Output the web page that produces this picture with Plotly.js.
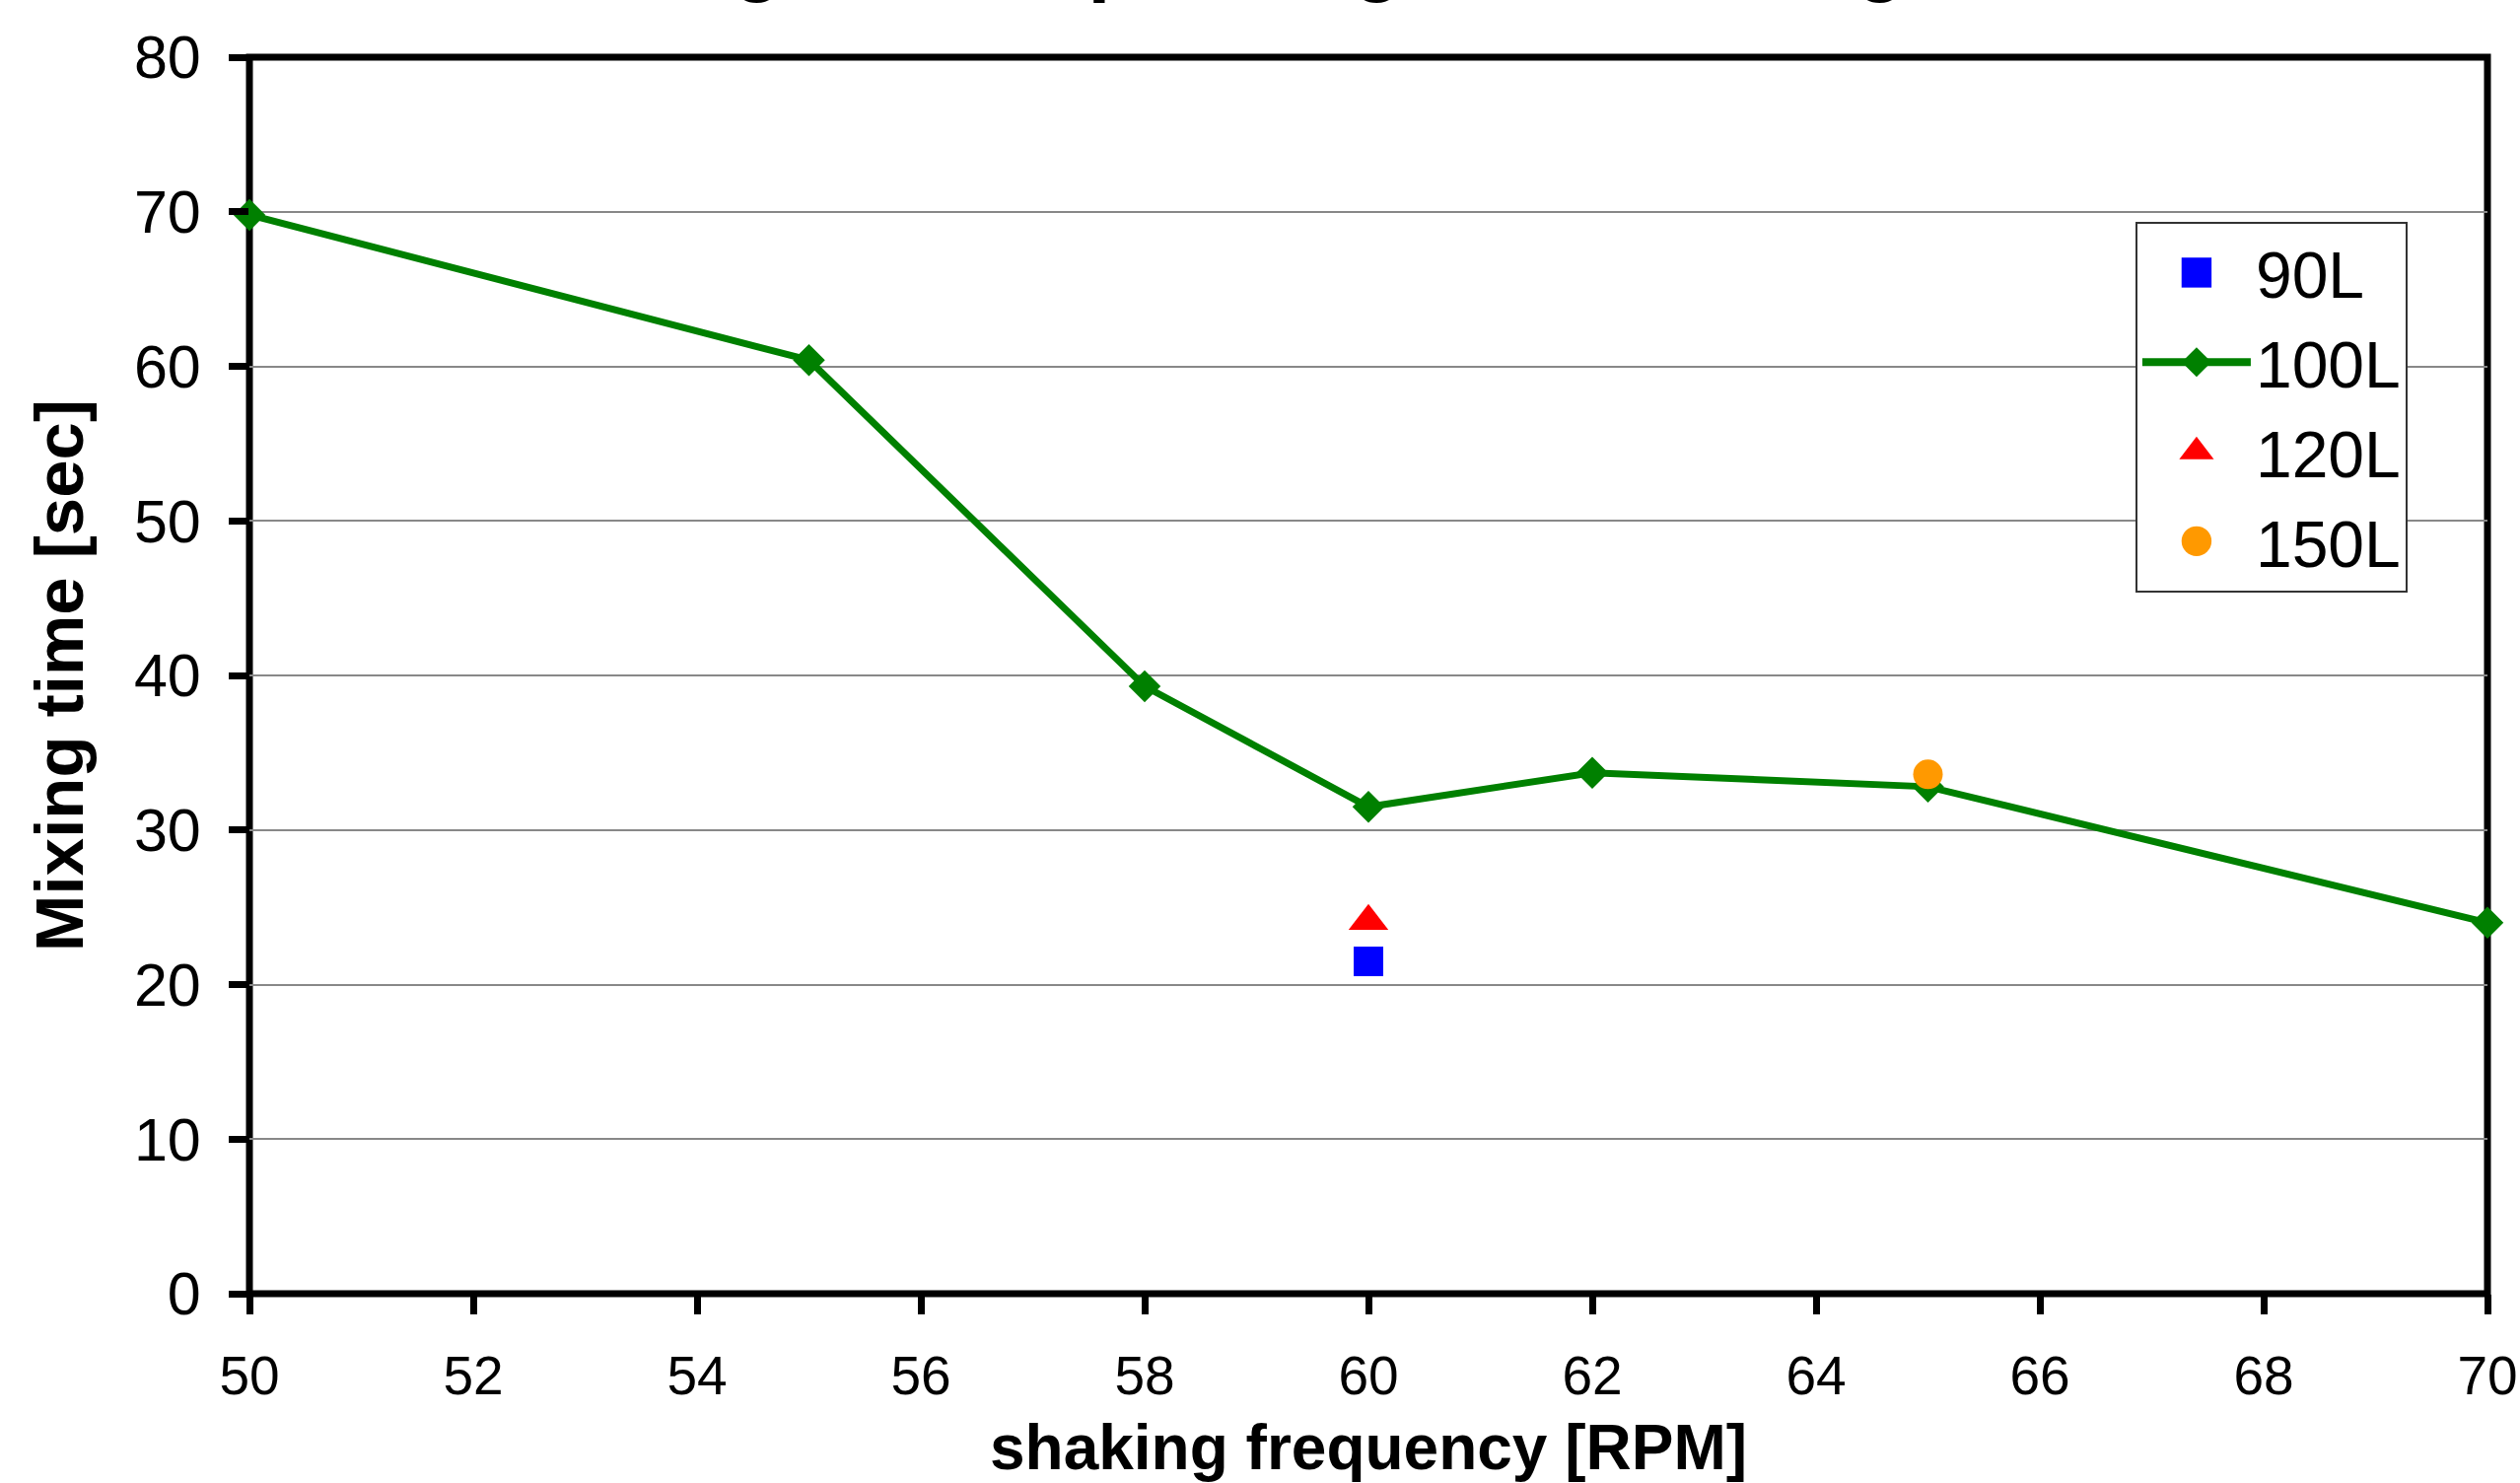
<!DOCTYPE html>
<html>
<head>
<meta charset="utf-8">
<script src="https://cdn.plot.ly/plotly-3.0.1.min.js"></script>
<style>
  html, body { margin: 0; padding: 0; background: #ffffff; }
  #chart { width: 2556px; height: 1504px; }
</style>
</head>
<body>
<div id="chart"></div>
<script>
// ---- data ----
const freq100 = [50, 55, 58, 60, 62, 65, 70];
const time100 = [69.8, 60.4, 39.3, 31.5, 33.7, 32.8, 24.0];
const freq90 = [60];
const time90 = [21.5];
const freq120 = [60];
const time120 = [24.1];
const freq150 = [65];
const time150 = [33.6];
const xTickVals = [50, 52, 54, 56, 58, 60, 62, 64, 66, 68, 70];
const yTickVals = [0, 10, 20, 30, 40, 50, 60, 70, 80];
const titleText = 'Mixing time depending on the filling volume';
const xTitle = 'shaking frequency [RPM]';
const yTitle = 'Mixing time [sec]';

const FONT = 'Liberation Sans, Arial, Helvetica, sans-serif';

const traces = [
  {
    name: '90L', legendgroup: 'g90', x: freq90, y: time90, type: 'scatter', mode: 'markers',
    marker: { symbol: 'square', size: 30, color: '#0000FF' },
    cliponaxis: false
  },
  {
    name: '100L', legendgroup: 'g100', x: freq100, y: time100, type: 'scatter', mode: 'lines+markers',
    line: { color: '#008000', width: 7 },
    marker: { symbol: 'diamond', size: 25, color: '#008000' },
    cliponaxis: false
  },
  {
    name: '120L', legendgroup: 'g120', x: freq120, y: time120, type: 'scatter', mode: 'markers',
    marker: { symbol: 'triangle-up', size: 35, color: '#FF0000' },
    cliponaxis: false
  },
  {
    name: '150L', legendgroup: 'g150', x: freq150, y: time150, type: 'scatter', mode: 'markers',
    marker: { symbol: 'circle', size: 30, color: '#FF9900' },
    cliponaxis: false
  }
];

// legend symbol enlargement (Plotly caps legend symbol size)
const legendScale = { '90L': 1.9, '100L': 1.45, '120L': 1.9, '150L': 1.9 };

const layout = {
  width: 2556, height: 1504,
  margin: { l: 253, r: 33, t: 58, b: 192, pad: 0 },
  paper_bgcolor: '#ffffff', plot_bgcolor: '#ffffff',
  font: { family: FONT, color: '#000000' },
  showlegend: true,
  legend: {
    x: 0.8427, y: 0.8668, xanchor: 'left', yanchor: 'top',
    bgcolor: '#ffffff', bordercolor: '#333333', borderwidth: 2,
    font: { family: FONT, size: 66, color: '#000000' },
    itemwidth: 110, traceorder: 'grouped', tracegroupgap: 2
  },
  xaxis: {
    range: [50, 70], tickmode: 'array', tickvals: xTickVals,
    showgrid: false, zeroline: false, showline: false,
    ticks: 'outside', ticklen: 20, tickwidth: 7, tickcolor: '#000000',
    tickfont: { family: FONT, size: 55, color: '#000000' },
    ticklabelstandoff: 15,
    title: { text: '<b>' + xTitle + '</b>', font: { family: FONT, size: 64, color: '#000000' }, standoff: 20 }
  },
  yaxis: {
    range: [0, 80], tickmode: 'array', tickvals: yTickVals,
    showgrid: true, gridcolor: '#888888', gridwidth: 2,
    zeroline: false, showline: false,
    ticks: 'outside', ticklen: 20, tickwidth: 7, tickcolor: '#000000',
    tickfont: { family: FONT, size: 61, color: '#000000' },
    ticklabelstandoff: 16,
    title: { text: '<b>' + yTitle + '</b>', font: { family: FONT, size: 69, color: '#000000' }, standoff: 28 }
  },
  shapes: [
    {
      type: 'rect', xref: 'paper', yref: 'paper', x0: 0, x1: 1, y0: 0, y1: 1,
      line: { color: '#000000', width: 7 }, fillcolor: 'rgba(0,0,0,0)', layer: 'below'
    }
  ],
  annotations: [
    {
      text: '<b>' + titleText + '</b>', xref: 'paper', yref: 'paper',
      x: 0.5, y: 1, xanchor: 'center', yanchor: 'bottom', yshift: 53,
      showarrow: false, font: { family: FONT, size: 82, color: '#000000' }
    }
  ]
};

Plotly.newPlot('chart', traces, layout, { displayModeBar: false, staticPlot: true }).then(function (gd) {
  const items = gd.querySelectorAll('.legend .traces');
  items.forEach(function (item) {
    const label = item.querySelector('.legendtext');
    const name = label ? label.textContent : '';
    const s = legendScale[name] || 1;
    item.querySelectorAll('.legendpoints path.scatterpts').forEach(function (p) {
      const t = p.getAttribute('transform') || '';
      p.setAttribute('transform', t + ' scale(' + s + ')');
    });
    item.querySelectorAll('.legendlines path').forEach(function (p) {
      p.style.strokeWidth = '8px';
    });
  });
});
</script>
</body>
</html>
